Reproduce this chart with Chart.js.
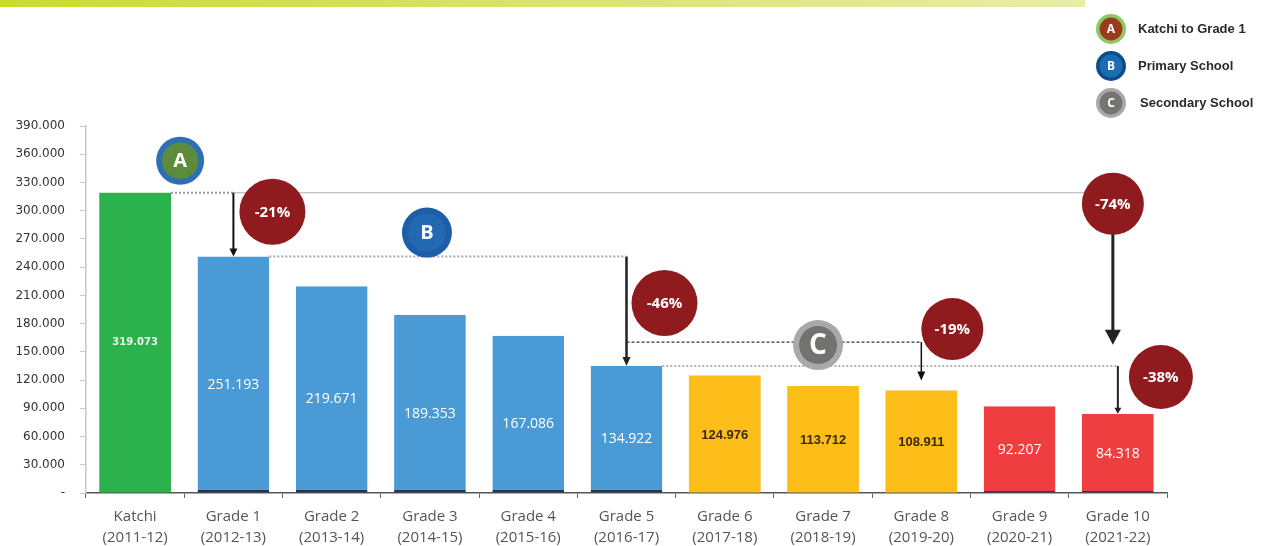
<!DOCTYPE html>
<html>
<head>
<meta charset="utf-8">
<script src="https://cdn.jsdelivr.net/npm/chart.js@4"></script>
<style>
    body { margin: 0; background: #fff; }
    #wrap { position: relative; width: 1264px; height: 546px; }
</style>
</head>
<body>
<div id="wrap"><canvas id="dropChart" width="1264" height="546"></canvas></div>
<script>
// ========================================
// ENROLMENT DROP-OFF - CHART
// ========================================

const grades = ['Katchi', 'Grade 1', 'Grade 2', 'Grade 3', 'Grade 4', 'Grade 5',
    'Grade 6', 'Grade 7', 'Grade 8', 'Grade 9', 'Grade 10'];
const years = ['(2011-12)', '(2012-13)', '(2013-14)', '(2014-15)', '(2015-16)', '(2016-17)',
    '(2017-18)', '(2018-19)', '(2019-20)', '(2020-21)', '(2021-22)'];
const enrolment = [319073, 251193, 219671, 189353, 167086, 134922, 124976, 113712, 108911, 92207, 84318];
const stage = ['katchi', 'primary', 'primary', 'primary', 'primary', 'primary',
    'secondary', 'secondary', 'secondary', 'high', 'high'];
const yTicks = [0, 30000, 60000, 90000, 120000, 150000, 180000, 210000, 240000, 270000, 300000, 330000, 360000, 390000];
const dropLabels = ['-21%', '-46%', '-19%', '-74%', '-38%'];
const legendLetters = ['A', 'B', 'C'];
const legendNames = ['Katchi to Grade 1', 'Primary School', 'Secondary School'];

const stageColors = {
    katchi: '#2bb24c',
    primary: '#4a9bd5',
    secondary: '#fdbe19',
    high: '#ee3e3f'
};

// Formato 390.000
function fmt(v) {
    return v === 0 ? '-' : v.toLocaleString('de-DE');
}

// ---------- helpers de desenho ----------
function arrow(ctx, x, y1, y2, lw, hw, hh, color) {
    ctx.save();
    ctx.strokeStyle = color;
    ctx.fillStyle = color;
    ctx.lineWidth = lw;
    ctx.setLineDash([]);
    ctx.beginPath();
    ctx.moveTo(x, y1);
    ctx.lineTo(x, y2 - hh + 1);
    ctx.stroke();
    ctx.beginPath();
    ctx.moveTo(x - hw, y2 - hh);
    ctx.lineTo(x + hw, y2 - hh);
    ctx.lineTo(x, y2);
    ctx.closePath();
    ctx.fill();
    ctx.restore();
}

function hline(ctx, x1, x2, y, color, lw, dash) {
    ctx.save();
    ctx.strokeStyle = color;
    ctx.lineWidth = lw;
    ctx.setLineDash(dash);
    ctx.beginPath();
    ctx.moveTo(x1, y);
    ctx.lineTo(x2, y);
    ctx.stroke();
    ctx.restore();
}

function bubble(ctx, x, y, r, text) {
    ctx.save();
    ctx.fillStyle = '#8f1b1f';
    ctx.beginPath();
    ctx.arc(x, y, r, 0, Math.PI * 2);
    ctx.fill();
    ctx.fillStyle = '#fff';
    ctx.font = 'bold 15px "Open Sans"';
    ctx.textAlign = 'center';
    ctx.textBaseline = 'middle';
    ctx.fillText(text, x, y + 1);
    ctx.restore();
}

function badge(ctx, x, y, r, ring, inner, letter, fontSize) {
    ctx.save();
    ctx.fillStyle = ring;
    ctx.beginPath();
    ctx.arc(x, y, r, 0, Math.PI * 2);
    ctx.fill();
    ctx.fillStyle = inner;
    ctx.beginPath();
    ctx.arc(x, y, r * 0.76, 0, Math.PI * 2);
    ctx.fill();
    ctx.fillStyle = '#fff';
    ctx.font = 'bold ' + fontSize + 'px "Open Sans"';
    ctx.textAlign = 'center';
    ctx.textBaseline = 'middle';
    ctx.fillText(letter, x, y + 1);
    ctx.restore();
}

// Barra superior + legenda
const framePlugin = {
    id: 'frame',
    beforeDraw(chart) {
        const ctx = chart.ctx;
        const g = ctx.createLinearGradient(0, 0, 1085, 0);
        g.addColorStop(0, '#cadb2c');
        g.addColorStop(1, '#e7eda8');
        ctx.fillStyle = g;
        ctx.fillRect(0, 0, 1085, 7);

        const rings = ['#8dc862', '#0f4c8c', '#a9a7a7'];
        const inners = ['#9a3b1f', '#1b6db2', '#767373'];
        legendLetters.forEach((letter, i) => {
            const y = 29 + i * 37;
            badge(ctx, 1111, y, 15, rings[i], inners[i], letter, 12);
            ctx.fillStyle = '#2a2a2a';
            ctx.font = 'bold 13px "Liberation Sans"';
            ctx.textAlign = 'left';
            ctx.textBaseline = 'middle';
            ctx.fillText(legendNames[i], 1138 + (i === 2 ? 2 : 0), y);
        });
    }
};

// Rótulos das barras e anotações
const annotatePlugin = {
    id: 'annotate',
    afterDatasetsDraw(chart) {
        const ctx = chart.ctx;
        const xs = chart.scales.x;
        const ys = chart.scales.y;
        const bars = chart.getDatasetMeta(0).data;
        const cx = i => xs.getPixelForValue(i);
        const top = i => ys.getPixelForValue(enrolment[i]);
        const right = i => bars[i].x + bars[i].width / 2;

        // valores dentro das barras
        bars.forEach((bar, i) => {
            const mid = (bar.y + bar.base) / 2;
            ctx.save();
            ctx.textAlign = 'center';
            ctx.textBaseline = 'middle';
            if (stage[i] === 'katchi') {
                ctx.font = 'bold 10px "DejaVu Sans"';
                ctx.fillStyle = '#e8f5ea';
                ctx.fillText(fmt(enrolment[i]), bar.x, mid);
            } else if (stage[i] === 'secondary') {
                ctx.font = 'bold 13px "Liberation Sans"';
                ctx.fillStyle = '#3b2a05';
                ctx.fillText(fmt(enrolment[i]), bar.x, mid + 1);
            } else {
                ctx.font = '14px "Open Sans"';
                ctx.fillStyle = '#fff';
                ctx.fillText(fmt(enrolment[i]), bar.x, mid + (stage[i] === 'primary' ? 10 : 1));
            }
            ctx.restore();
        });

        const yK = top(0);
        const y1 = top(1);
        const y5 = top(5);
        const yC = y5 - 24;

        // Katchi -> Grade 1 / Grade 10
        hline(ctx, right(0), cx(1), yK, '#9a9a9a', 2, [2, 2]);
        hline(ctx, cx(1), cx(10), yK, '#b0b0b0', 1.2, []);
        arrow(ctx, cx(1), yK, y1, 2, 4, 8, '#111');

        // Grade 1 -> Grade 5
        hline(ctx, right(1), cx(5), y1, '#a8a8a8', 2, [2, 2]);
        arrow(ctx, cx(5), y1, y5, 2.5, 4, 9, '#222');

        // Grade 5 -> Grade 10
        hline(ctx, right(5), cx(10), y5, '#b0b0b0', 2, [2, 2]);
        arrow(ctx, cx(10), y5, top(10), 2, 3.5, 6, '#222');

        // Grade 5 -> Grade 8
        hline(ctx, cx(5), cx(8), yC, '#333', 1.2, [3, 2]);
        arrow(ctx, cx(8), yC, top(8) - 10, 1.5, 4, 9, '#111');

        // Katchi -> Grade 10 (seta grande)
        arrow(ctx, cx(10) - 5, yK + 40, yK + 152, 3, 8, 15, '#222');

        badge(ctx, cx(0) + 45, yK - 32, 24, '#2d6fb4', '#5d8b3c', 'A', 20);
        badge(ctx, cx(3) - 3, y1 - 24, 25, '#1d5ea8', '#2268b3', 'B', 20);
        badge(ctx, cx(7) - 5, yC + 3, 25, '#aaa8a8', '#747171', 'C', 28);

        bubble(ctx, cx(1) + 39, yK + 19, 33, dropLabels[0]);
        bubble(ctx, cx(5) + 38, y5 - 63, 33, dropLabels[1]);
        bubble(ctx, cx(8) + 31, yC - 13, 31, dropLabels[2]);
        bubble(ctx, cx(10) - 5, yK + 11, 31, dropLabels[3]);
        bubble(ctx, cx(10) + 43, y5 + 11, 32, dropLabels[4]);
    }
};

const ctx = document.getElementById('dropChart').getContext('2d');

const dropChart = new Chart(ctx, {
    type: 'bar',
    data: {
        labels: grades.map((g, i) => [g, years[i]]),
        datasets: [{
            data: enrolment,
            backgroundColor: stage.map(s => stageColors[s]),
            borderColor: stage.map(s => s === 'primary' ? '#1f3556' : '#3a3a3a'),
            borderWidth: stage.map(s => ({
                top: 0, left: 0, right: 0,
                bottom: s === 'primary' ? 3 : (s === 'high' ? 1.5 : 0)
            })),
            borderSkipped: false,
            barPercentage: 0.73,
            categoryPercentage: 1
        }]
    },
    options: {
        responsive: false,
        animation: false,
        layout: {
            padding: { top: 126, right: 97, left: 0, bottom: 0 }
        },
        plugins: {
            legend: { display: false },
            tooltip: { enabled: false }
        },
        scales: {
            x: {
                afterFit(scale) { scale.height = 53; },
                grid: {
                    offset: true,
                    drawOnChartArea: false,
                    tickLength: 5,
                    color: '#666'
                },
                border: { color: '#555', width: 1.5 },
                ticks: {
                    color: '#555',
                    padding: 9,
                    maxRotation: 0,
                    font: { family: 'Open Sans', size: 15, lineHeight: 1.35 }
                }
            },
            y: {
                min: 0,
                max: 390000,
                afterFit(scale) { scale.width = 86; },
                afterBuildTicks(scale) {
                    scale.ticks = yTicks.map(v => ({ value: v }));
                },
                grid: {
                    drawOnChartArea: false,
                    tickLength: 6,
                    color: '#c8c8c8'
                },
                border: { color: '#c8c8c8', width: 1.5 },
                ticks: {
                    color: '#333',
                    padding: 15,
                    font: { family: 'DejaVu Sans', size: 12 },
                    callback: function(value) {
                        return fmt(value);
                    }
                }
            }
        }
    },
    plugins: [framePlugin, annotatePlugin]
});
</script>
</body>
</html>
